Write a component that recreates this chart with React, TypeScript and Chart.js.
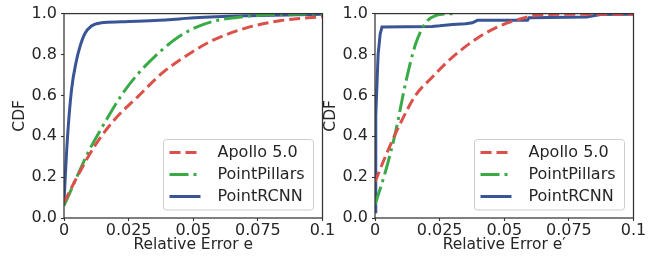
import React, { useEffect, useRef } from "react";
import { Chart, registerables } from "chart.js";

Chart.register(...registerables);

// ---------- data ----------
const xTickValues = [0, 0.025, 0.05, 0.075, 0.1];
const xTickLabels = ["0", "0.025", "0.05", "0.075", "0.1"];
const yTickValues = [0, 0.2, 0.4, 0.6, 0.8, 1.0];
const yTickLabels = ["0.0", "0.2", "0.4", "0.6", "0.8", "1.0"];
const seriesNames = ["Apollo 5.0", "PointPillars", "PointRCNN"];
const xTitles = ["Relative Error e", "Relative Error e\u2032"];
const yTitle = "CDF";

// left panel (relative error e)
const apolloLeftX = [0, 0.0054, 0.0119, 0.0196, 0.0286, 0.0377, 0.0493, 0.0577, 0.0706, 0.0835, 0.1];
const apolloLeftY = [0.075, 0.209, 0.353, 0.482, 0.594, 0.706, 0.81, 0.87, 0.93, 0.965, 0.985];
const pillarsLeftX = [0, 0.0041, 0.0093, 0.0157, 0.0222, 0.0286, 0.0377, 0.0448, 0.0515, 0.0577, 0.0706, 0.08, 0.1];
const pillarsLeftY = [0.06, 0.176, 0.32, 0.465, 0.6, 0.705, 0.82, 0.89, 0.935, 0.962, 0.987, 0.995, 0.999];
const rcnnLeftX = [0, 0.0013, 0.0029, 0.0048, 0.0061, 0.008, 0.0106, 0.0144, 0.0222, 0.035, 0.0447, 0.0505, 0.07, 0.1];
const rcnnLeftY = [0.08, 0.385, 0.626, 0.77, 0.835, 0.9, 0.939, 0.955, 0.96, 0.966, 0.974, 0.98, 0.99, 0.997];

// right panel (relative error e')
const apolloRightX = [0, 0.004, 0.0093, 0.0157, 0.0222, 0.03, 0.039, 0.0475, 0.0565, 0.063, 0.08, 0.1];
const apolloRightY = [0.176, 0.3, 0.45, 0.6, 0.69, 0.787, 0.875, 0.935, 0.975, 0.993, 0.997, 0.997];
const pillarsRightX = [0, 0.004, 0.0079, 0.0118, 0.0157, 0.0196, 0.0234, 0.029, 0.031];
const pillarsRightY = [0.065, 0.225, 0.417, 0.658, 0.851, 0.955, 0.99, 0.999, 1.0];
const rcnnRightX = [0, 0.0003, 0.0012, 0.002, 0.0027, 0.022, 0.025, 0.03, 0.035, 0.0377, 0.0396, 0.059, 0.0596, 0.0818, 0.0873, 0.1];
const rcnnRightY = [0.03, 0.5, 0.8, 0.9, 0.935, 0.937, 0.94, 0.947, 0.95, 0.955, 0.967, 0.967, 0.98, 0.983, 0.995, 0.997];

// ---------- styles ----------
const COLORS = ["#db5049", "#3aaa46", "#3a5596"];
const DASHES: number[][] = [[11, 5], [19, 5, 3, 5], []];
const FONT = "DejaVu Sans";
const TEXT = "#262626";

type Panel = { xs: number[][]; ys: number[][]; xTitle: string; left: number; stepped: boolean };

const panels: Panel[] = [
  { xs: [apolloLeftX, pillarsLeftX, rcnnLeftX], ys: [apolloLeftY, pillarsLeftY, rcnnLeftY], xTitle: xTitles[0], left: 0, stepped: false },
  { xs: [apolloRightX, pillarsRightX, rcnnRightX], ys: [apolloRightY, pillarsRightY, rcnnRightY], xTitle: xTitles[1], left: 311, stepped: true },
];

const framePlugin = {
  id: "frame",
  afterDatasetsDraw(chart: any) {
    const { ctx, chartArea: a } = chart;
    ctx.save();
    ctx.strokeStyle = "#333333";
    ctx.lineWidth = 1.25;
    ctx.strokeRect(a.left, a.top, a.right - a.left, a.bottom - a.top);
    ctx.restore();
  },
};

const legendPlugin = {
  id: "boxLegend",
  afterDraw(chart: any) {
    const { ctx, chartArea: a } = chart;
    const w = 150;
    const h = 70.5;
    const x0 = a.right - 9 - w;
    const y0 = a.bottom - 8 - h;
    ctx.save();
    ctx.beginPath();
    const r = 3;
    ctx.moveTo(x0 + r, y0);
    ctx.lineTo(x0 + w - r, y0);
    ctx.arcTo(x0 + w, y0, x0 + w, y0 + r, r);
    ctx.lineTo(x0 + w, y0 + h - r);
    ctx.arcTo(x0 + w, y0 + h, x0 + w - r, y0 + h, r);
    ctx.lineTo(x0 + r, y0 + h);
    ctx.arcTo(x0, y0 + h, x0, y0 + h - r, r);
    ctx.lineTo(x0, y0 + r);
    ctx.arcTo(x0, y0, x0 + r, y0, r);
    ctx.closePath();
    ctx.fillStyle = "rgba(255,255,255,0.85)";
    ctx.fill();
    ctx.strokeStyle = "#cccccc";
    ctx.lineWidth = 1;
    ctx.stroke();
    const rows = [13, 35, 57];
    seriesNames.forEach((name, i) => {
      const y = y0 + rows[i];
      ctx.beginPath();
      ctx.setLineDash(DASHES[i]);
      ctx.strokeStyle = COLORS[i];
      ctx.lineWidth = 3;
      ctx.lineCap = "butt";
      ctx.moveTo(x0 + 6, y);
      ctx.lineTo(x0 + 37, y);
      ctx.stroke();
      ctx.setLineDash([]);
      ctx.fillStyle = TEXT;
      ctx.font = `16px "${FONT}"`;
      ctx.textBaseline = "middle";
      ctx.textAlign = "left";
      ctx.fillText(name, x0 + 54, y + 0.5);
    });
    ctx.restore();
  },
};

function PanelChart({ panel }: { panel: Panel }) {
  const ref = useRef<HTMLCanvasElement | null>(null);
  useEffect(() => {
    if (!ref.current) return;
    const datasets = seriesNames.map((name, i) => ({
      label: name,
      data: panel.xs[i].map((x, j) => ({ x, y: panel.ys[i][j] })),
      borderColor: COLORS[i],
      backgroundColor: COLORS[i],
      borderWidth: 3,
      borderDash: DASHES[i],
      borderCapStyle: "butt" as const,
      pointRadius: 0,
      fill: false,
      cubicInterpolationMode: panel.stepped && i === 2 ? ("default" as const) : ("monotone" as const),
      tension: panel.stepped && i === 2 ? 0 : 0.4,
    }));
    const tickFont = { family: FONT, size: 16 };
    const titleFont = { family: FONT, size: 15.5 };
    const gridOpts = {
      display: true,
      drawOnChartArea: false,
      drawTicks: true,
      tickLength: 3,
      tickColor: "#333333",
      tickWidth: 1.1,
    };
    const chart = new Chart(ref.current, {
      type: "line",
      data: { datasets },
      options: {
        responsive: false,
        animation: false,
        devicePixelRatio: 1,
        layout: { padding: { top: 11, right: 17.5, left: 0, bottom: 0 } },
        plugins: { legend: { display: false }, tooltip: { enabled: false } },
        scales: {
          x: {
            type: "linear",
            min: 0,
            max: 0.1,
            afterBuildTicks: (s: any) => {
              s.ticks = xTickValues.map((v) => ({ value: v }));
            },
            afterFit: (s: any) => {
              s.height = 38;
            },
            ticks: {
              callback: (v: any) => xTickLabels[xTickValues.findIndex((t) => Math.abs(t - v) < 1e-9)],
              font: tickFont,
              color: TEXT,
              padding: 0,
              maxRotation: 0,
              autoSkip: false,
            },
            grid: gridOpts,
            border: { display: false },
            title: { display: true, text: panel.xTitle, font: titleFont, color: TEXT, padding: { top: 0, bottom: 1.7 } },
          },
          y: {
            type: "linear",
            min: 0,
            max: 1,
            afterBuildTicks: (s: any) => {
              s.ticks = yTickValues.map((v) => ({ value: v }));
            },
            afterFit: (s: any) => {
              s.width = 64;
            },
            ticks: {
              callback: (v: any) => yTickLabels[yTickValues.findIndex((t) => Math.abs(t - v) < 1e-9)],
              font: tickFont,
              color: TEXT,
              padding: 4,
              autoSkip: false,
            },
            grid: gridOpts,
            border: { display: false },
            title: { display: true, text: yTitle, font: titleFont, color: TEXT, padding: { top: 10.7, bottom: 0 } },
          },
        },
      },
      plugins: [framePlugin, legendPlugin],
    } as any);
    return () => chart.destroy();
  }, [panel]);
  return (
    <canvas
      ref={ref}
      width={340}
      height={256}
      style={{ position: "absolute", left: panel.left, top: 0, width: 340, height: 256 }}
    />
  );
}

export default function App() {
  return (
    <div style={{ position: "fixed", left: 0, top: 0, width: 657, height: 256, background: "#ffffff", overflow: "hidden" }}>
      {panels.map((p, i) => (
        <PanelChart key={i} panel={p} />
      ))}
    </div>
  );
}
